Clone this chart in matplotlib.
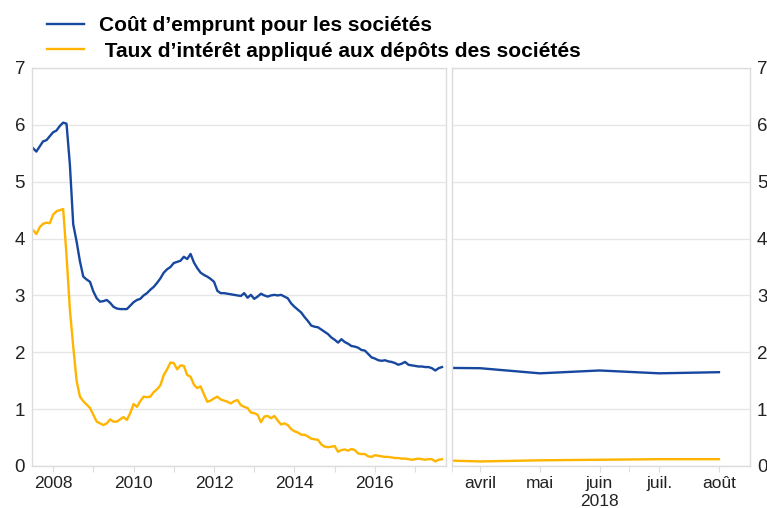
import matplotlib
matplotlib.use("Agg")
import matplotlib.pyplot as plt

plt.rcParams['font.family'] = ['Liberation Sans', 'DejaVu Sans']

# monthly values, Jan 2008 .. Mar 2018
cout = [5.59, 5.53, 5.62, 5.71, 5.73, 5.80, 5.87, 5.90, 5.98, 6.04, 6.02, 5.30,
        4.25, 3.95, 3.60, 3.33, 3.28, 3.24, 3.07, 2.95, 2.89, 2.90, 2.92, 2.87,
        2.80, 2.77, 2.76, 2.76, 2.76, 2.82, 2.88, 2.92, 2.94, 3.00, 3.04, 3.10,
        3.15, 3.22, 3.30, 3.40, 3.46, 3.50, 3.57, 3.59, 3.61, 3.68, 3.64, 3.73,
        3.58, 3.48, 3.40, 3.36, 3.33, 3.29, 3.24, 3.08, 3.04, 3.04, 3.03, 3.02,
        3.01, 3.00, 2.99, 3.04, 2.96, 3.01, 2.94, 2.98, 3.03, 3.00, 2.98, 3.00,
        3.01, 3.00, 3.01, 2.98, 2.95, 2.86, 2.80, 2.75, 2.70, 2.62, 2.55, 2.47,
        2.45, 2.44, 2.40, 2.36, 2.32, 2.26, 2.22, 2.17, 2.23, 2.18, 2.15, 2.11,
        2.10, 2.08, 2.04, 2.03, 1.97, 1.91, 1.89, 1.86, 1.85, 1.86, 1.84, 1.83,
        1.81, 1.78, 1.80, 1.83, 1.78, 1.77, 1.76, 1.75, 1.75, 1.74, 1.74, 1.72,
        1.68, 1.72, 1.74]
depots = [4.15, 4.08, 4.20, 4.26, 4.28, 4.27, 4.42, 4.48, 4.50, 4.52, 3.70, 2.75,
          2.10, 1.50, 1.22, 1.14, 1.08, 1.02, 0.90, 0.78, 0.75, 0.72, 0.75, 0.82,
          0.78, 0.78, 0.82, 0.86, 0.81, 0.93, 1.09, 1.04, 1.14, 1.22, 1.21, 1.22,
          1.30, 1.35, 1.42, 1.60, 1.70, 1.82, 1.81, 1.70, 1.77, 1.76, 1.60, 1.57,
          1.43, 1.37, 1.40, 1.26, 1.13, 1.15, 1.19, 1.22, 1.17, 1.15, 1.13, 1.10,
          1.14, 1.16, 1.07, 1.04, 1.02, 0.94, 0.93, 0.90, 0.77, 0.87, 0.88, 0.84,
          0.88, 0.80, 0.73, 0.75, 0.72, 0.65, 0.61, 0.59, 0.55, 0.55, 0.52, 0.48,
          0.47, 0.46, 0.38, 0.34, 0.33, 0.34, 0.35, 0.25, 0.28, 0.29, 0.27, 0.30,
          0.28, 0.22, 0.21, 0.21, 0.17, 0.16, 0.19, 0.18, 0.17, 0.16, 0.16, 0.15,
          0.14, 0.14, 0.13, 0.13, 0.12, 0.11, 0.12, 0.13, 0.12, 0.11, 0.12, 0.12,
          0.08, 0.11, 0.12]
years = ['2008', '2009', '2010', '2011', '2012', '2013', '2014', '2015', '2016', '2017']

# 2018, March .. August
mois = ['avril', 'mai', 'juin', 'juil.', 'août']
cout_2018 = [1.73, 1.72, 1.63, 1.68, 1.63, 1.65]
depots_2018 = [0.11, 0.08, 0.10, 0.11, 0.12, 0.12]

blue = '#17479e'
yellow = '#ffb400'
grid_c = '#e6e6e6'
txt_c = '#222222'

fig = plt.figure(figsize=(7.67, 5.08), dpi=100)
ax1 = fig.add_axes([32/767, 42/508, 414/767, 398/508])
ax2 = fig.add_axes([452/767, 42/508, 298/767, 398/508])

m = list(range(len(cout)))
ax1.plot(m, cout, color=blue, lw=1.7, label='Coût d\u2019emprunt pour les sociétés')
ax1.plot(m, depots, color=yellow, lw=1.7, label=' Taux d\u2019intérêt appliqué aux dépôts des sociétés')
ax1.set_xlim(-0.3, 123.2)
ax1.set_xticks([6 + 12*k for k in range(len(years))])
ax1.set_xticklabels([y if k % 2 == 0 else '' for k, y in enumerate(years)])

mm = list(range(len(cout_2018)))
ax2.plot(mm, cout_2018, color=blue, lw=1.7)
ax2.plot(mm, depots_2018, color=yellow, lw=1.7)
ax2.set_xlim(0.53, 5.52)
ax2.set_xticks(range(1, 6))
ax2.set_xticklabels(mois)
ax2.set_xticks([0.53, 3.5], minor=True)
ax2.text(3, -0.62, '2018', ha='center', va='center', fontsize=12.5, color=txt_c,
         clip_on=False)
ax2.yaxis.tick_right()

for ax in (ax1, ax2):
    ax.set_ylim(0, 7)
    ax.set_yticks(range(0, 8))
    ax.grid(axis='y', color=grid_c, lw=1)
    ax.set_axisbelow(True)
    for s in ax.spines.values():
        s.set_color('#dcdcdc')
        s.set_linewidth(1)
    ax.tick_params(axis='x', length=4, color='#dcdcdc', labelsize=12.5,
                   labelcolor=txt_c, pad=3, which='both')
    ax.tick_params(axis='y', length=0, labelsize=13.5, labelcolor=txt_c, pad=5)

fig.legend(loc='upper left', bbox_to_anchor=(27/767, 1.0 + 4/508), frameon=False,
           prop={'weight': 'bold', 'size': 15}, handlelength=1.8,
           handletextpad=0.7, labelspacing=0.33, borderaxespad=0.55)

fig.savefig('out.png', dpi=100)
